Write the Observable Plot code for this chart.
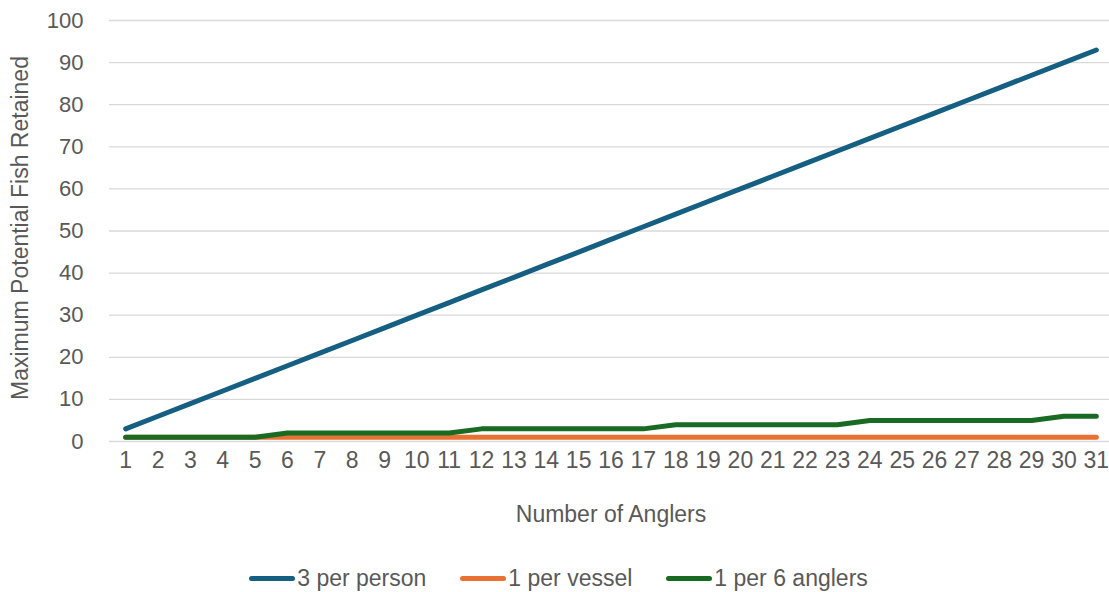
<!DOCTYPE html>
<html>
<head>
<meta charset="utf-8">
<script src="https://cdn.jsdelivr.net/npm/d3@7"></script>
<script src="https://cdn.jsdelivr.net/npm/@observablehq/plot@0.6"></script>
<style>
  html, body { margin: 0; padding: 0; background: #fff; }
  #chart { width: 1109px; height: 592px; position: relative; overflow: hidden; }
  .legend {
    position: absolute; left: 4px; top: 563px; width: 1109px; height: 30px;
    display: flex; justify-content: center; align-items: center;
    font-family: "Liberation Sans", Arial, sans-serif; font-size: 23px; color: #595959;
  }
  .legend .item { display: flex; align-items: center; margin: 0 17px; }
  .legend .sw { width: 46px; height: 5px; border-radius: 3px; margin-right: 2px; }
</style>
</head>
<body>
<div id="chart"></div>
<script>
// Number of anglers on the trip (category axis)
const anglers = [1,2,3,4,5,6,7,8,9,10,11,12,13,14,15,16,17,18,19,20,21,22,23,24,25,26,27,28,29,30,31];

// Maximum fish retained under each bag-limit rule
const perPerson = [3,6,9,12,15,18,21,24,27,30,33,36,39,42,45,48,51,54,57,60,63,66,69,72,75,78,81,84,87,90,93];
const perVessel = [1,1,1,1,1,1,1,1,1,1,1,1,1,1,1,1,1,1,1,1,1,1,1,1,1,1,1,1,1,1,1];
const perSixAnglers = [1,1,1,1,1,2,2,2,2,2,2,3,3,3,3,3,3,4,4,4,4,4,4,5,5,5,5,5,5,6,6];

const seriesNames = ["3 per person", "1 per vessel", "1 per 6 anglers"];
const seriesColors = ["#156082", "#E97132", "#196B24"];
const yTicks = [0,10,20,30,40,50,60,70,80,90,100];

const rows = [];
[perPerson, perVessel, perSixAnglers].forEach((vals, i) => {
  vals.forEach((v, j) => rows.push({series: seriesNames[i], anglers: anglers[j], fish: v}));
});

const font = "'Liberation Sans', Arial, sans-serif";
const grey = "#595959";

const chart = Plot.plot({
  width: 1109,
  height: 540,
  marginLeft: 109,
  marginRight: -3,
  marginTop: 20,
  marginBottom: 99,
  style: {fontFamily: font, fontSize: "22px", color: grey, background: "#fff"},
  x: {type: "linear", domain: [0.5, 31.5]},
  y: {domain: [0, 100]},
  color: {domain: seriesNames, range: seriesColors},
  marks: [
    Plot.ruleY(yTicks, {stroke: "#d9d9d9", strokeWidth: 1.3}),
    Plot.axisY({ticks: yTicks, tickSize: 0, tickPadding: 26, label: null, fill: grey, fontSize: 22}),
    Plot.axisX({ticks: anglers, tickSize: 0, tickPadding: 10, label: null, fill: grey, fontSize: 23, tickFormat: d => String(d)}),
    Plot.line(rows, {
      x: "anglers", y: "fish", z: "series", stroke: "series",
      strokeWidth: 5, strokeLinecap: "round", strokeLinejoin: "round"
    }),
    Plot.text(["Maximum Potential Fish Retained"], {
      frameAnchor: "left", dx: -89, dy: -3, rotate: -90, textAnchor: "middle", text: d => d,
      fill: grey, fontSize: 23
    }),
    Plot.text(["Number of Anglers"], {
      frameAnchor: "bottom", dy: 80, textAnchor: "middle", text: d => d,
      fill: grey, fontSize: 23
    })
  ]
});

const root = document.getElementById("chart");
root.appendChild(chart);

const legend = document.createElement("div");
legend.className = "legend";
seriesNames.forEach((name, i) => {
  const item = document.createElement("div");
  item.className = "item";
  const sw = document.createElement("span");
  sw.className = "sw";
  sw.style.background = seriesColors[i];
  const label = document.createElement("span");
  label.textContent = name;
  item.appendChild(sw);
  item.appendChild(label);
  legend.appendChild(item);
});
root.appendChild(legend);
</script>
</body>
</html>
